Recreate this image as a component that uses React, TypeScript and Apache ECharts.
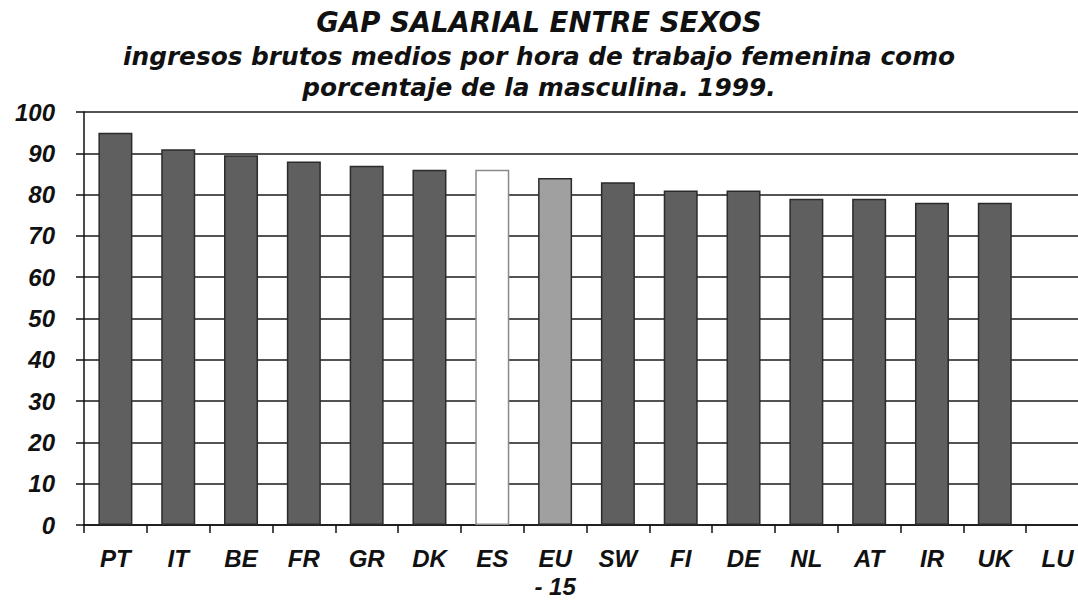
import React, { useEffect, useRef } from "react";
import * as echarts from "echarts";

const titleText = "GAP SALARIAL ENTRE SEXOS";
const subtitleText = "ingresos brutos medios por hora de trabajo femenina como\nporcentaje de la masculina. 1999.";
const categories = ["PT", "IT", "BE", "FR", "GR", "DK", "ES", "EU\n- 15", "SW", "FI", "DE", "NL", "AT", "IR", "UK", "LU"];
const values: (number | null)[] = [95, 91, 89.5, 88, 87, 86, 86, 84, 83, 81, 81, 79, 79, 78, 78, null];
const yTicks = [0, 10, 20, 30, 40, 50, 60, 70, 80, 90, 100];

const DARK = "#5f5f5f";

export default function App() {
  const ref = useRef<HTMLDivElement>(null);
  useEffect(() => {
    if (!ref.current) return;
    const chart = echarts.init(ref.current, null, { renderer: "svg" });
    const data = values.map((v, i) => {
      const c = categories[i];
      let style: any = { color: DARK, borderColor: "#2b2b2b", borderWidth: 1.5 };
      if (c === "ES") style = { color: "#ffffff", borderColor: "#8a8a8a", borderWidth: 1.5 };
      if (c.startsWith("EU")) style = { color: "#a0a0a0", borderColor: "#2b2b2b", borderWidth: 1.5 };
      return { value: v, itemStyle: style };
    });
    chart.setOption({
      animation: false,
      backgroundColor: "#ffffff",
      title: [
        {
          text: titleText,
          left: "center",
          top: 8,
          padding: 0,
          textStyle: {
            fontFamily: "DejaVu Sans",
            fontStyle: "italic",
            fontWeight: "bold",
            fontSize: 27.5,
            color: "#111",
          },
        },
        {
          text: subtitleText,
          left: "center",
          top: 41,
          padding: 0,
          textStyle: {
            fontFamily: "DejaVu Sans",
            fontStyle: "italic",
            fontWeight: "bold",
            fontSize: 24.8,
            lineHeight: 31,
            color: "#111",
          },
        },
      ],
      grid: { left: 84, right: -11, top: 112, bottom: 76, outerBoundsMode: "none" },
      xAxis: {
        type: "category",
        data: categories,
        axisLine: { lineStyle: { color: "#111", width: 1.5 } },
        axisTick: { show: true, length: 8, lineStyle: { color: "#111", width: 1.5 } },
        axisLabel: {
          fontFamily: "Liberation Sans",
          fontStyle: "italic",
          fontWeight: "bold",
          fontSize: 24,
          lineHeight: 28,
          color: "#111",
          margin: 19.5,
          interval: 0,
        },
      },
      yAxis: {
        type: "value",
        min: yTicks[0],
        max: yTicks[yTicks.length - 1],
        interval: 10,
        axisLine: { show: true, lineStyle: { color: "#111", width: 1.5 } },
        axisTick: { show: true, length: 8, lineStyle: { color: "#111", width: 1.5 } },
        splitLine: { lineStyle: { color: "#1a1a1a", width: 1.5 } },
        axisLabel: {
          fontFamily: "Liberation Sans",
          fontStyle: "italic",
          fontWeight: "bold",
          fontSize: 24,
          color: "#111",
          margin: 29,
        },
      },
      series: [
        {
          type: "bar",
          data,
          barWidth: 34,
        },
      ],
    });
    return () => chart.dispose();
  }, []);
  return (
    <div
      ref={ref}
      style={{ position: "absolute", left: 0, top: 0, width: 1078, height: 601 }}
    />
  );
}
